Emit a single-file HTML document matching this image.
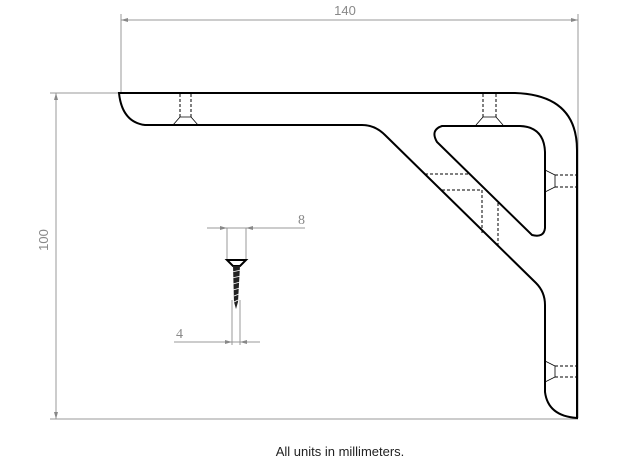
<!DOCTYPE html>
<html><head><style>
html,body{margin:0;padding:0;background:#fff;}
svg{display:block;}
</style></head><body>
<svg width="628" height="472" viewBox="0 0 628 472" xmlns="http://www.w3.org/2000/svg">
<g stroke="#999" stroke-width="1" fill="none">
  <line x1="121" y1="14" x2="121" y2="92"/>
  <line x1="578" y1="14" x2="578" y2="418"/>
  <line x1="121" y1="20" x2="578" y2="20"/>
  <line x1="50" y1="93" x2="120" y2="93"/>
  <line x1="50" y1="419" x2="578" y2="419"/>
  <line x1="56" y1="93" x2="56" y2="419"/>
  <line x1="207" y1="228" x2="305" y2="228"/>
  <line x1="227" y1="228" x2="227" y2="259"/>
  <line x1="246" y1="228" x2="246" y2="259"/>
  <line x1="174" y1="342" x2="260" y2="342"/>
  <line x1="232" y1="300" x2="232" y2="345"/>
  <line x1="240" y1="300" x2="240" y2="345"/>
</g>
<g fill="#888">
  <polygon points="121,20 128,18 128,22"/><polygon points="578,20 571,18 571,22"/>
  <polygon points="56,93 54,100 58,100"/><polygon points="56,419 54,412 58,412"/>
  <polygon points="227,228 220,226 220,230"/><polygon points="246,228 253,226 253,230"/>
  <polygon points="232,342 225,340 225,344"/><polygon points="240,342 247,340 247,344"/>
</g>
<g font-family="Liberation Sans, sans-serif" fill="#888" font-size="13">
  <text x="345" y="15" text-anchor="middle">140</text>
  <text transform="translate(48,240) rotate(-90)" text-anchor="middle">100</text>
  <text x="298" y="224" font-family="Liberation Serif, serif" font-size="14">8</text>
  <text x="176" y="338" font-family="Liberation Serif, serif" font-size="14">4</text>
</g>
<path d="M119,93 L515,93 Q577,95 577,150 L577,418 Q548,416 545,392 L545,305 Q545,292 536,283 L385,135 Q375,125 362,125 L145,125 Q122,122 119,93 Z" fill="none" stroke="#000" stroke-width="2"/>
<path d="M442,126 L520,126 Q544,127 545,152 L545,228 Q544,238 532,235 L437,142 Q430,130 442,126 Z" fill="none" stroke="#000" stroke-width="2"/>
<g stroke="#000" stroke-width="1" fill="none" stroke-dasharray="3,2">
  <line x1="180" y1="94" x2="180" y2="117"/><line x1="191" y1="94" x2="191" y2="117"/>
  <line x1="483" y1="94" x2="483" y2="117"/><line x1="496" y1="94" x2="496" y2="117"/>
  <line x1="555" y1="175" x2="577" y2="175"/><line x1="555" y1="187" x2="577" y2="187"/>
  <line x1="555" y1="366" x2="577" y2="366"/><line x1="555" y1="377" x2="577" y2="377"/>
  <line x1="425" y1="174" x2="470" y2="174"/><line x1="442" y1="190" x2="482" y2="190"/>
  <line x1="482" y1="190" x2="482" y2="233"/><line x1="498" y1="203" x2="498" y2="248"/>
</g>
<g stroke="#000" stroke-width="0.8" fill="none">
  <path d="M173,125 L180,117 L191,117 L198,125"/>
  <path d="M476,125 L483,117 L496,117 L503,125"/>
  <path d="M545,170 L555,175 L555,187 L545,192"/>
  <path d="M545,361 L555,366 L555,377 L545,382"/>
</g>
<g>
  <path d="M227,260 L246,260 L240,266 L233,266 Z" fill="none" stroke="#000" stroke-width="2"/>
  <path d="M233,266 L240,266 L238,302 L236,309 L234,302 Z" fill="#222"/>
  <g stroke="#fff" stroke-width="0.8">
    <line x1="232" y1="272" x2="241" y2="270"/><line x1="232" y1="278" x2="241" y2="276"/>
    <line x1="233" y1="284" x2="240" y2="282"/><line x1="233" y1="290" x2="240" y2="288"/>
    <line x1="234" y1="296" x2="239" y2="294"/><line x1="234" y1="302" x2="238" y2="300"/>
  </g>
</g>
<text x="340" y="456" text-anchor="middle" font-family="Liberation Sans, sans-serif" font-size="13" fill="#222">All units in millimeters.</text>
</svg>
</body></html>
